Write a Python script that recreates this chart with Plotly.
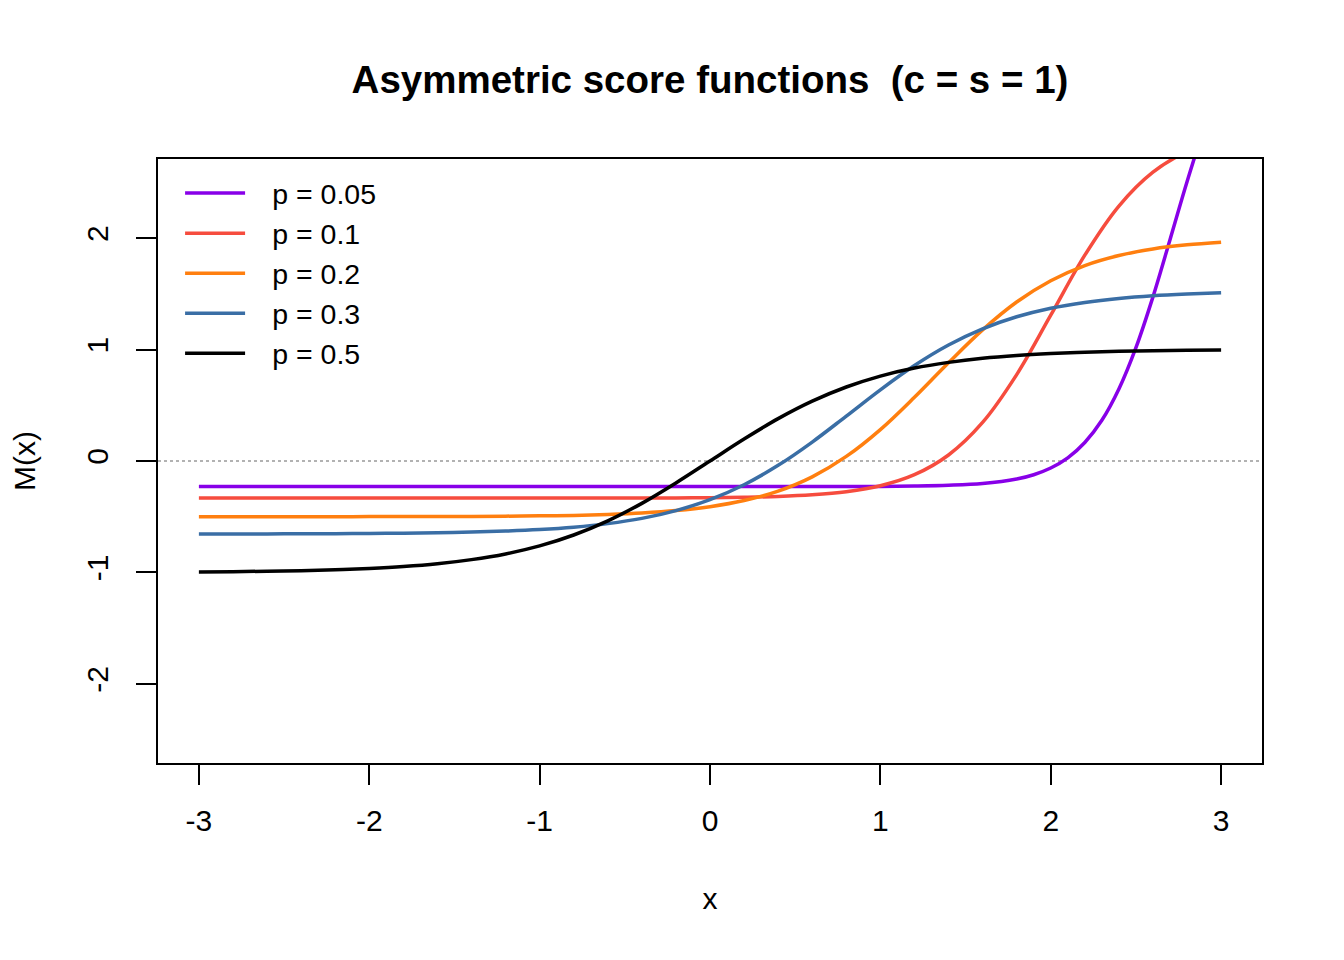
import plotly.graph_objects as go

# values (x step 0.2)
x_grid = [-3.0, -2.8, -2.6, -2.4, -2.2, -2.0, -1.8, -1.6, -1.4, -1.2, -1.0,
          -0.8, -0.6, -0.4, -0.2, 0.0, 0.2, 0.4, 0.6, 0.8, 1.0,
          1.2, 1.4, 1.6, 1.8, 2.0, 2.2, 2.4, 2.6, 2.8, 3.0]

m_p50 = [-0.995, -0.993, -0.989, -0.984, -0.976, -0.964, -0.947, -0.922, -0.885, -0.834, -0.762,
         -0.664, -0.537, -0.380, -0.197, 0.000, 0.197, 0.380, 0.537, 0.664, 0.762,
         0.834, 0.885, 0.922, 0.947, 0.964, 0.976, 0.984, 0.989, 0.993, 0.995]

m_p30 = [-0.654, -0.654, -0.654, -0.653, -0.652, -0.650, -0.648, -0.644, -0.638, -0.629, -0.615,
         -0.594, -0.562, -0.515, -0.445, -0.347, -0.213, -0.039, 0.170, 0.403, 0.639,
         0.857, 1.041, 1.186, 1.294, 1.371, 1.423, 1.459, 1.483, 1.498, 1.509]

m_p20 = [-0.500, -0.500, -0.500, -0.500, -0.500, -0.499, -0.499, -0.498, -0.497, -0.495, -0.492,
         -0.488, -0.479, -0.466, -0.445, -0.410, -0.355, -0.270, -0.142, 0.041, 0.282,
         0.572, 0.882, 1.177, 1.427, 1.618, 1.754, 1.844, 1.903, 1.940, 1.964]

m_p10 = [-0.333, -0.333, -0.333, -0.333, -0.333, -0.333, -0.333, -0.333, -0.333, -0.333, -0.333,
         -0.333, -0.333, -0.332, -0.331, -0.329, -0.325, -0.318, -0.303, -0.275, -0.222,
         -0.123, 0.054, 0.346, 0.775, 1.308, 1.847, 2.288, 2.592, 2.777, 2.882]

x_p05 = [-3.0, -2.6, -2.2, -1.8, -1.4, -1.0, -0.6, -0.2, 0.2, 0.6, 0.8, 1.0,
         1.2, 1.4, 1.6, 1.8, 1.9, 2.0, 2.1, 2.2, 2.3, 2.4, 2.5, 2.6, 2.7, 2.8, 2.9, 3.0]
m_p05 = [-0.229, -0.229, -0.229, -0.229, -0.229, -0.229, -0.229, -0.229, -0.229, -0.229, -0.229, -0.228,
         -0.225, -0.218, -0.202, -0.162, -0.123, -0.063, 0.028, 0.166, 0.365, 0.646, 1.017, 1.473,
         1.986, 2.506, 2.984, 3.382]

x_ticks = [-3, -2, -1, 0, 1, 2, 3]
y_ticks = [-2, -1, 0, 1, 2]

series = [
    ("p = 0.05", x_p05, m_p05, "#8800E8"),
    ("p = 0.1", x_grid, m_p10, "#F64C3E"),
    ("p = 0.2", x_grid, m_p20, "#FF7F0F"),
    ("p = 0.3", x_grid, m_p30, "#3A6EA5"),
    ("p = 0.5", x_grid, m_p50, "#000000"),
]

fig = go.Figure()
for name, xs, ys, col in series:
    # en space + nbsp to widen the gap between legend line and text
    fig.add_trace(go.Scatter(x=xs, y=ys, mode="lines", name="\u2002\u00a0" + name,
                             line=dict(color=col, width=3.5, shape="spline")))

fig.add_hline(y=0, line=dict(color="#999999", width=1.5, dash="dot"), layer="below")

axis_style = dict(showline=True, mirror=True, linecolor="black", linewidth=1.5,
                  ticks="outside", ticklen=20, tickwidth=1.5, tickcolor="black",
                  showgrid=False, zeroline=False, tickfont=dict(size=30, color="black"))

fig.update_xaxes(range=[-3.24, 3.24], tickvals=x_ticks, ticktext=[str(v) for v in x_ticks],
                 ticklabelstandoff=10,
                 title=dict(text="x", font=dict(size=30), standoff=52), **axis_style)
fig.update_yaxes(range=[-2.71, 2.71], tickvals=y_ticks, ticktext=[str(v) for v in y_ticks],
                 tickangle=-90, ticklabelstandoff=16,
                 title=dict(text="M(x)", font=dict(size=30), standoff=37), **axis_style)

fig.update_layout(
    width=1336, height=952,
    paper_bgcolor="white", plot_bgcolor="white",
    font=dict(family="Liberation Sans, Arial, sans-serif", color="black", size=30),
    title=dict(text="<b>Asymmetric score functions  (c = s = 1)</b>", x=0.5, xanchor="center",
               xref="paper", y=1 - 72 / 952, yanchor="middle", yref="container",
               font=dict(size=38.5)),
    margin=dict(l=150, r=82, t=151, b=197),
    legend=dict(x=0.02, y=0.985, xanchor="left", yanchor="top", bgcolor="rgba(0,0,0,0)",
                font=dict(size=28.5), itemwidth=60, tracegroupgap=0),
    showlegend=True,
)

fig.write_html("out.html")
